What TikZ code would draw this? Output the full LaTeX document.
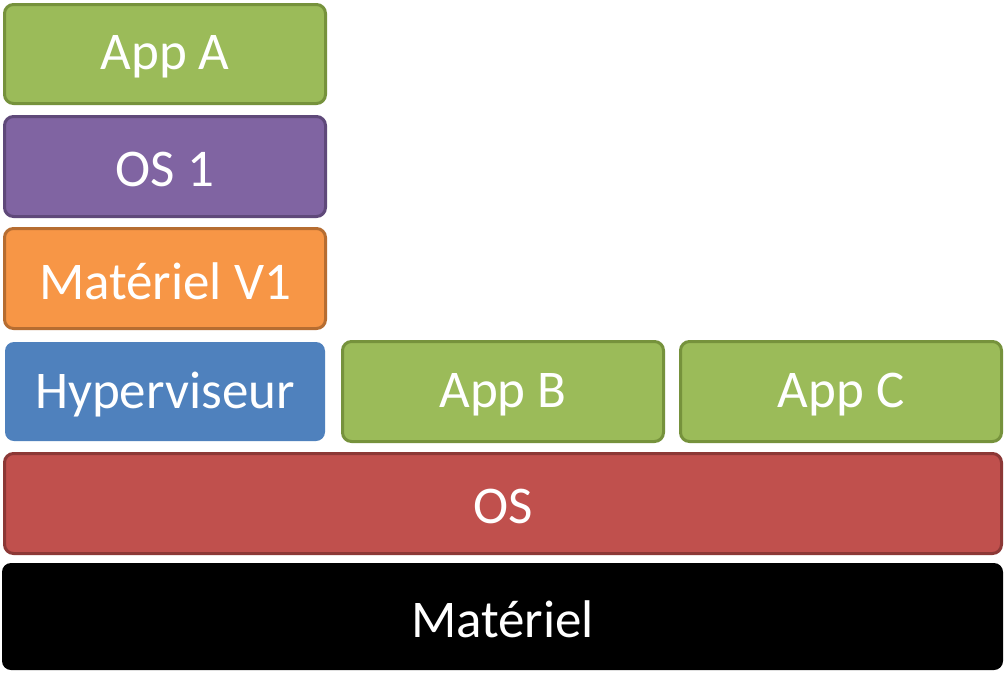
\documentclass[tikz,border=0pt]{standalone}
\usepackage{fontspec}
\setmainfont{Carlito}
\definecolor{appfill}{HTML}{9BBB59}
\definecolor{appdraw}{HTML}{76923C}
\definecolor{osfill}{HTML}{8064A2}
\definecolor{osdraw}{HTML}{5F497A}
\definecolor{hwfill}{HTML}{F79646}
\definecolor{hwdraw}{HTML}{B66D31}
\definecolor{hypfill}{HTML}{4F81BD}
\definecolor{hostfill}{HTML}{C0504D}
\definecolor{hostdraw}{HTML}{8C3836}
\begin{document}
\begin{tikzpicture}[x=1pt,y=-1pt,
  layer/.style={rounded corners=9pt, line width=3pt},
  layertext/.style={text=white, font=\fontsize{53}{60}\selectfont, inner sep=0pt, anchor=center},
]
\useasboundingbox[fill=white] (0,0) rectangle (1005,683);
\newcommand{\layerbox}[7]{%
  % name, x1, y1, x2, y2, style, text
  \path[layer,#6] (#2,#3) rectangle (#4,#5);
  \node[layertext] (#1) at ({(#2+#4)/2},{(#3+#5)/2+3}) {#7};%
}
\layerbox{appa}{4.5}{4.5}{325.5}{103.5}{fill=appfill,draw=appdraw}{App A}
\layerbox{osone}{4.5}{116.5}{325.5}{216.5}{fill=osfill,draw=osdraw}{OS 1}
\layerbox{hwv}{4.5}{228.5}{325.5}{328.5}{fill=hwfill,draw=hwdraw}{Matériel V1}
\layerbox{hyp}{5}{342}{325}{441}{fill=hypfill}{Hyperviseur}
\layerbox{appb}{342.5}{341.5}{663.5}{441.5}{fill=appfill,draw=appdraw}{App B}
\layerbox{appc}{680.5}{341.5}{1001.5}{441.5}{fill=appfill,draw=appdraw}{App C}
\layerbox{os}{4.5}{453.5}{1001.5}{553.5}{fill=hostfill,draw=hostdraw}{OS}
\layerbox{hw}{2}{563}{1003}{670}{fill=black}{Matériel}
\end{tikzpicture}
\end{document}
